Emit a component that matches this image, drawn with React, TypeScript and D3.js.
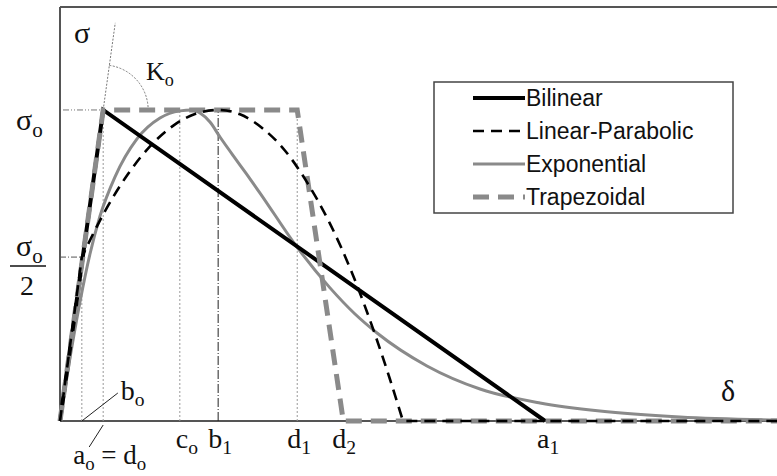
import React from 'react';
import * as d3 from 'd3';

// δ in units where a1 = 100, σ in units of σo
const X_MAX = 147.8;
const Y_MAX = 1.331;

// characteristic openings
const bo = 4.5;
const ao = 8.9; // = do
const co = 24.7;
const b1 = 32.6;
const d1 = 48.9;
const d2 = 58.4;
const a1 = 100;
const sigmaHalf = 0.527;

const bilinear: [number, number][] = [[0, 0], [ao, 1], [a1, 0]];
const trapezoidal: [number, number][] = [[0, 0], [ao, 1], [d1, 1], [d2, 0], [X_MAX, 0]];
const lpParabola: [number, number][] = [
  [bo, sigmaHalf], [9.28, 0.675], [14.02, 0.794], [18.55, 0.883], [23.29, 0.949], [27.83, 0.987],
  [b1, 1], [37.1, 0.986], [41.6, 0.943], [46.4, 0.869], [50.9, 0.768], [55.7, 0.633],
  [60.2, 0.476], [64.9, 0.28], [68.0, 0.135], [70.7, 0],
];
const exponential: [number, number][] = [
  [0, 0], [2.06, 0.203], [4.12, 0.383], [6.18, 0.537], [8.25, 0.659], [11.34, 0.785],
  [15.87, 0.907], [20.61, 0.974], [24.74, 0.997], [27.21, 1], [28.86, 0.99], [30.92, 0.961],
  [32.98, 0.913], [37.11, 0.823], [41.23, 0.733], [48.86, 0.559], [55.66, 0.428], [60.81, 0.344],
  [65.35, 0.283], [75.65, 0.177], [86.58, 0.103], [98.95, 0.058], [111.3, 0.032], [127.8, 0.013],
  [X_MAX, 0.003],
];

const legendNames = ['Bilinear', 'Linear-Parabolic', 'Exponential', 'Trapezoidal'];

const W = 777;
const H = 476;
const x = d3.scaleLinear().domain([0, X_MAX]).range([60, 777]);
const y = d3.scaleLinear().domain([0, Y_MAX]).range([421, 7]);

const styles = [
  { stroke: '#000', width: 4, dash: undefined as string | undefined },
  { stroke: '#000', width: 2.6, dash: '11 7' },
  { stroke: '#8a8a8a', width: 3, dash: undefined },
  { stroke: '#8a8a8a', width: 5, dash: '16 9' },
];

const SERIF = "'Liberation Serif', 'Times New Roman', serif";

type Part = { t: string; sub?: boolean };
function MathLabel({ px, py, parts, size = 28, anchor }: { px: number; py: number; parts: Part[]; size?: number; anchor?: string }) {
  return (
    <text x={px} y={py} fontFamily={SERIF} fontSize={size} fill="#111" textAnchor={anchor}>
      {parts.map((p, i) => (
        <tspan key={i} y={p.sub ? py + size * 0.22 : py} fontSize={p.sub ? size * 0.7 : size}>
          {p.t}
        </tspan>
      ))}
    </text>
  );
}

export default function App() {
  const line = d3.line<[number, number]>().x(d => x(d[0])).y(d => y(d[1]));
  const smooth = d3.line<[number, number]>().x(d => x(d[0])).y(d => y(d[1])).curve(d3.curveMonotoneX);

  const lpPath =
    `M${x(0)},${y(0)}` +
    smooth(lpParabola)!.replace(/^M/, 'L') +
    `L${x(X_MAX)},${y(0)}`;

  // K_o angle marker
  const cx = x(ao);
  const cy = y(1);
  const ang = Math.atan2(y(1) - y(0), x(ao) - x(0));
  const r = 45;
  const arc = d3.path();
  arc.moveTo(cx + r * Math.cos(ang), cy + r * Math.sin(ang));
  arc.arc(cx, cy, r, ang, 0);

  const refLines = [
    { v: bo, top: sigmaHalf, stroke: '#999', dash: '2 2' },
    { v: ao, top: 1, stroke: '#999', dash: '2 2' },
    { v: co, top: 1, stroke: '#999', dash: '2 2' },
    { v: b1, top: 1, stroke: '#222', dash: '9 2 1 2' },
    { v: d1, top: 1, stroke: '#999', dash: '2 2' },
  ];

  const ly0 = 98;
  const ldy = 33;

  return (
    <div style={{ position: 'absolute', left: 0, top: 0 }}>
      <svg width={W} height={H} style={{ display: 'block', background: '#fff' }}>
        {/* frame */}
        <line x1={x(0)} x2={x(0)} y1={y(0)} y2={y(Y_MAX)} stroke="#555" strokeWidth={2} />
        <line x1={x(0)} x2={x(X_MAX)} y1={y(Y_MAX)} y2={y(Y_MAX)} stroke="#555" strokeWidth={2} />
        <line x1={x(0)} x2={x(X_MAX)} y1={y(0)} y2={y(0)} stroke="#555" strokeWidth={2} />

        {/* reference lines */}
        {refLines.map((l, i) => (
          <line key={i} x1={x(l.v)} x2={x(l.v)} y1={y(0)} y2={y(l.top)} stroke={l.stroke} strokeWidth={1} strokeDasharray={l.dash} />
        ))}
        <line x1={x(0) + 3} x2={x(ao)} y1={y(1)} y2={y(1)} stroke="#777" strokeWidth={1} strokeDasharray="6 2 1 2 1 2" />
        <line x1={x(0)} x2={x(bo)} y1={y(sigmaHalf)} y2={y(sigmaHalf)} stroke="#555" strokeWidth={1} strokeDasharray="6 2 1 2" />
        <line x1={x(ao)} y1={y(1)} x2={x(ao * 1.28)} y2={y(1.28)} stroke="#777" strokeWidth={1} strokeDasharray="2 1.5" />
        <path d={arc.toString()} fill="none" stroke="#777" strokeWidth={1} strokeDasharray="2 1.5" />

        {/* curves */}
        <path d={smooth(exponential)!} fill="none" stroke={styles[2].stroke} strokeWidth={styles[2].width} />
        <path d={line(bilinear)!} fill="none" stroke={styles[0].stroke} strokeWidth={styles[0].width} />
        <path d={line(trapezoidal)!} fill="none" stroke={styles[3].stroke} strokeWidth={styles[3].width} strokeDasharray={styles[3].dash} />
        <path d={lpPath} fill="none" stroke={styles[1].stroke} strokeWidth={styles[1].width} strokeDasharray={styles[1].dash} />

        {/* leaders */}
        <line x1={x(bo)} y1={y(0)} x2={x(bo) + 36} y2={y(0) - 28} stroke="#222" strokeWidth={1} />
        <line x1={x(ao)} y1={y(0) + 4} x2={x(ao) - 14} y2={y(0) + 26} stroke="#222" strokeWidth={1} />

        {/* labels */}
        <MathLabel px={74} py={43} parts={[{ t: 'σ' }]} size={30} />
        <MathLabel px={16} py={y(1) + 20} parts={[{ t: 'σ' }, { t: 'o', sub: true }]} size={30} />
        <MathLabel px={16} py={256} parts={[{ t: 'σ' }, { t: 'o', sub: true }]} size={30} />
        <line x1={10} x2={46} y1={266} y2={266} stroke="#111" strokeWidth={1.5} />
        <MathLabel px={27} py={295} parts={[{ t: '2' }]} size={28} anchor="middle" />
        <MathLabel px={146} py={80} parts={[{ t: 'K' }, { t: 'o', sub: true }]} size={26} />

        <MathLabel px={x(bo) + 39} py={400} parts={[{ t: 'b' }, { t: 'o', sub: true }]} />
        <MathLabel px={x(ao) - 30} py={464} size={27} parts={[{ t: 'a' }, { t: 'o', sub: true }, { t: ' = d' }, { t: 'o', sub: true }]} />
        <MathLabel px={x(co) - 4} py={448} parts={[{ t: 'c' }, { t: 'o', sub: true }]} />
        <MathLabel px={x(b1) - 10} py={448} parts={[{ t: 'b' }, { t: '1', sub: true }]} />
        <MathLabel px={x(d1) - 10} py={448} parts={[{ t: 'd' }, { t: '1', sub: true }]} />
        <MathLabel px={x(d2) - 11} py={448} parts={[{ t: 'd' }, { t: '2', sub: true }]} />
        <MathLabel px={x(a1) - 8} py={448} parts={[{ t: 'a' }, { t: '1', sub: true }]} />
        <MathLabel px={721} py={401} parts={[{ t: 'δ' }]} size={30} />

        {/* legend */}
        <rect x={434} y={82} width={299} height={131} fill="#fff" stroke="#444" strokeWidth={1.5} />
        {legendNames.map((name, i) => (
          <g key={name} transform={`translate(0, ${ly0 + i * ldy})`}>
            <line x1={473} x2={525} y1={0} y2={0} stroke={styles[i].stroke} strokeWidth={styles[i].width} strokeDasharray={styles[i].dash} />
            <text x={526} y={0} dy="0.35em" fontFamily="'Liberation Sans', Arial, sans-serif" fontSize={23} fill="#111">
              {name}
            </text>
          </g>
        ))}
      </svg>
    </div>
  );
}
